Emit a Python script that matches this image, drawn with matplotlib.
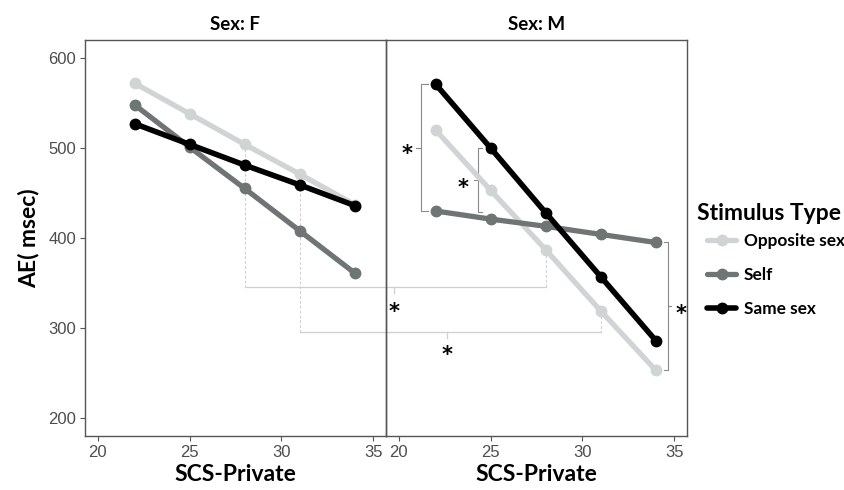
import numpy as np
import matplotlib.pyplot as plt

# data
scs = [22, 25, 28, 31, 34]
series = ['Opposite sex', 'Self', 'Same sex']
f_opposite = [572, 538, 504, 471, 437]
f_self = [548, 501, 455, 408, 361]
f_same = [527, 504, 481, 459, 436]
m_opposite = [520, 453, 387, 319, 253]
m_self = [430, 421, 413, 404, 395]
m_same = [571, 500, 428, 357, 286]

colors = ['#d0d4d4', '#6f7474', '#000000']
lws = [3.8, 3.8, 4.0]
label_font = ['Lato', 'DejaVu Sans']
tick_font = ['Liberation Sans', 'DejaVu Sans']
edge = '#555555'

fig = plt.figure(figsize=(8.45, 4.9), dpi=100)
fig.subplots_adjust(left=85/845, right=687/845, bottom=1-436/490, top=1-40/490, wspace=0)
ax1 = fig.add_subplot(1, 2, 1)
ax2 = fig.add_subplot(1, 2, 2, sharey=ax1)
ax2.patch.set_visible(False)  # let the cross-panel lines of ax1 show through

panels = [(ax1, 'Sex: F', [f_opposite, f_self, f_same]),
          (ax2, 'Sex: M', [m_opposite, m_self, m_same])]
handles = []
for ax, title, vals in panels:
    for name, v, c, lw in zip(series, vals, colors, lws):
        ln, = ax.plot(scs, v, color=c, lw=lw, marker='o', ms=7.5, label=name,
                      solid_capstyle='round', zorder=3)
        if ax is ax1:
            handles.append(ln)
    ax.set_xlim(19.3, 35.7)
    ax.set_ylim(180, 620)
    ax.set_xticks([20, 25, 30, 35])
    ax.set_yticks([200, 300, 400, 500, 600])
    for s in ax.spines.values():
        s.set_color(edge)
        s.set_linewidth(1.0)
    ax.tick_params(color=edge, labelcolor='#4d4d4d', labelsize=12, length=3.5, pad=3)
    for t in ax.get_xticklabels() + ax.get_yticklabels():
        t.set_family(tick_font)
    ax.set_title(title, fontsize=13.5, fontweight='bold', family=label_font, pad=7)
    ax.set_xlabel('SCS-Private', fontsize=16.5, fontweight='bold', family=label_font, labelpad=3)

ax2.tick_params(axis='y', left=False, labelleft=False)
ax1.set_ylabel('AE( msec)', fontsize=16.5, fontweight='bold', family=label_font, labelpad=6)

# significance brackets within the M panel
bc = '#8a8a8a'
def bracket(ax, x, y0, y1, end, tick, sx, sy):
    ax.plot([x + end, x, x, x + end], [y0, y0, y1, y1], color=bc, lw=0.8, zorder=2)
    ym = (y0 + y1) / 2
    ax.plot([x, x + tick], [ym, ym], color=bc, lw=0.8, zorder=2)
    ax.text(sx, sy, '*', fontsize=15, fontweight='bold', ha='center', va='center')

bracket(ax2, 21.2, 571, 430, 0.4, -0.25, 20.45, 493)
bracket(ax2, 24.3, 500, 429, 0.25, -0.2, 23.5, 455)
bracket(ax2, 34.65, 395, 253, -0.2, 0.2, 35.35, 316)

# brackets across the panels (opposite sex F vs M)
lc = '#cfcfcf'
def to_left(x, y):
    return ax1.transData.inverted().transform(ax2.transData.transform((x, y)))

for x, yl, ybar, ym_right, mid, sy in [(28, 504, 345.6, 387, 19.73, 318),
                                       (31, 471, 296, 319, 22.6, 270)]:
    xr, _ = to_left(x, ybar)
    xm, _ = to_left(mid, ybar)
    ax1.plot([x, x], [yl, ybar], color=lc, lw=0.7, ls=(0, (3, 2)), clip_on=False, zorder=1)
    ax1.plot([x, xr], [ybar, ybar], color=lc, lw=0.9, clip_on=False, zorder=1)
    ax2.plot([x, x], [ym_right, ybar], color=lc, lw=0.7, ls=(0, (3, 2)), zorder=1)
    ax1.plot([xm, xm], [ybar, ybar - 7], color=lc, lw=0.9, clip_on=False, zorder=1)
    ax2.text(mid, sy, '*', fontsize=15, fontweight='bold', ha='center', va='center')

# legend: title as its own text, entries indented beneath it
fig.text(697/845, 1-213/490, 'Stimulus Type', fontsize=16.5, fontweight='bold',
         family=label_font, ha='left', va='center')
fig.legend(handles=handles, loc='upper left', bbox_to_anchor=(707/845, 1-233/490),
           frameon=False, numpoints=1, borderpad=0, borderaxespad=0,
           handlelength=1.7, handletextpad=0.45, labelspacing=1.05,
           prop={'family': label_font, 'weight': 'bold', 'size': 12.4})

fig.savefig('out.png', dpi=100)
